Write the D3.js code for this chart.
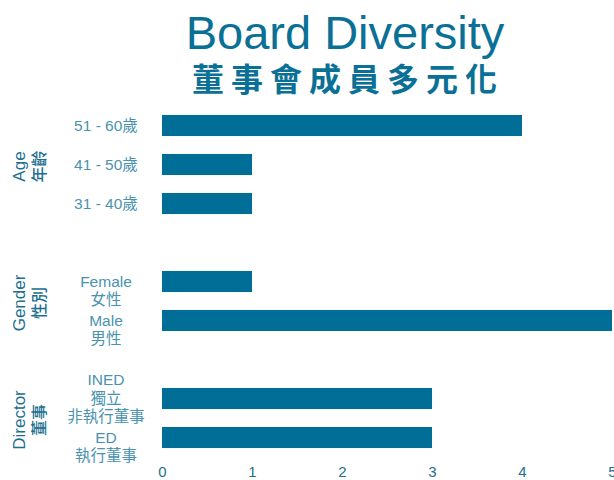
<!DOCTYPE html>
<html>
<head>
<meta charset="utf-8">
<script src="https://cdn.jsdelivr.net/npm/d3@7"></script>
<style>
  body { margin: 0; background: #fff; }
  svg { display: block; font-family: "Liberation Sans", Arial, "Noto Sans CJK TC", sans-serif; }
</style>
</head>
<body>
<svg id="chart" width="614" height="480"></svg>
<script>
// Rows top to bottom; gaps between groups are empty slots.
const rowKeys = ['51-60', '41-50', '31-40', 'gap1', 'female', 'male', 'gap2', 'ined', 'ed'];
const rowLabels = {
  '51-60': ['51 - 60歲'],
  '41-50': ['41 - 50歲'],
  '31-40': ['31 - 40歲'],
  'female': ['Female', '女性'],
  'male': ['Male', '男性'],
  'ined': ['INED', '獨立', '非執行董事'],
  'ed': ['ED', '執行董事']
};
const barKeys = ['51-60', '41-50', '31-40', 'female', 'male', 'ined', 'ed'];
const barValues = [4, 1, 1, 1, 5, 3, 3];
const groupNames = [['Age', '年齡'], ['Gender', '性別'], ['Director', '董事']];
const groupRows = [['51-60', '31-40'], ['female', 'male'], ['ined', 'ed']];
const xTicks = [0, 1, 2, 3, 4, 5];

const bars = barKeys.map((k, i) => ({ key: k, value: barValues[i] }));

const svg = d3.select('#chart');
const barColor = '#006e96';
const tickColor = '#4a93b0';
const groupColor = '#1d6f90';

const x = d3.scaleLinear().domain([0, 5]).range([162, 612]);
const y = d3.scaleBand().domain(rowKeys).range([106, 457]).paddingInner(0.46).paddingOuter(0.23);

// Title
svg.append('text')
  .attr('x', 345).attr('y', 49)
  .attr('text-anchor', 'middle')
  .attr('fill', '#0a7096')
  .attr('font-size', 47)
  .text('Board Diversity');

svg.append('text')
  .attr('x', 348).attr('y', 91)
  .attr('text-anchor', 'middle')
  .attr('fill', '#0a7096')
  .attr('font-size', 32)
  .attr('font-weight', 'bold')
  .attr('letter-spacing', 7)
  .style('font-family', '"Noto Sans CJK TC", sans-serif')
  .text('董事會成員多元化');

// Bars
svg.append('g').selectAll('rect')
  .data(bars)
  .join('rect')
  .attr('x', x(0))
  .attr('y', d => y(d.key))
  .attr('width', d => x(d.value) - x(0))
  .attr('height', y.bandwidth())
  .attr('fill', barColor);

// Row labels (multi-line, middle line on bar centre)
const lineH = 18.5;
const labelG = svg.append('g');
Object.entries(rowLabels).forEach(([k, lines]) => {
  const cy = y(k) + y.bandwidth() / 2;
  const mid = Math.floor((lines.length - 1) / 2);
  const t = labelG.append('text')
    .attr('text-anchor', 'middle')
    .attr('fill', tickColor)
    .attr('font-size', 15.5);
  lines.forEach((line, i) => {
    t.append('tspan')
      .attr('x', 106)
      .attr('y', cy + (i - mid) * lineH)
      .attr('dy', '0.35em')
      .text(line);
  });
});

// Group labels (rotated)
groupNames.forEach((names, i) => {
  const [a, b] = groupRows[i];
  const cy = (y(a) + y(b) + y.bandwidth()) / 2 + 2;
  svg.append('text')
    .attr('transform', `translate(19,${cy}) rotate(-90)`)
    .attr('text-anchor', 'middle')
    .attr('dy', '0.35em')
    .attr('fill', groupColor)
    .attr('font-size', 17)
    .text(names[0]);
  svg.append('text')
    .attr('transform', `translate(39,${cy}) rotate(-90)`)
    .attr('text-anchor', 'middle')
    .attr('dy', '0.35em')
    .attr('fill', groupColor)
    .attr('font-size', 16)
    .attr('font-weight', 500)
    .style('font-family', '"Noto Sans CJK TC", sans-serif')
    .text(names[1]);
});

// X axis labels
const xAxis = svg.append('g')
  .attr('transform', 'translate(0,463)')
  .call(d3.axisBottom(x).tickValues(xTicks).tickFormat(d3.format('d')).tickSize(0));
xAxis.select('.domain').remove();
xAxis.selectAll('text')
  .attr('fill', groupColor)
  .attr('font-size', 15)
  .style('font-family', '"Liberation Sans", Arial, sans-serif');
</script>
</body>
</html>
